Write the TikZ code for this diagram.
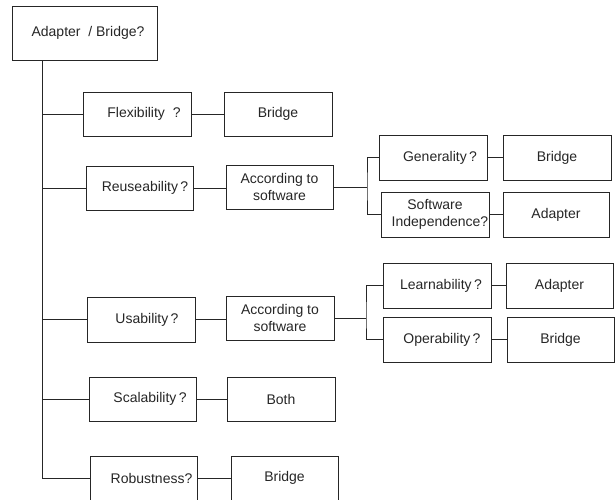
\documentclass[tikz,border=0pt]{standalone}
\usepackage{fontspec}
\setmainfont{Liberation Sans}
\begin{document}
\begin{tikzpicture}[x=1pt,y=-1pt,
  box/.style={draw=black!85, line width=0.9pt, rectangle, inner sep=0pt,
    minimum width=108pt, minimum height=44pt, align=center,
    font=\fontsize{14}{17.5}\selectfont, text=black!85},
  wire/.style={draw=black!85, line width=0.9pt}]
\useasboundingbox (0,0) rectangle (615,499);
% nodes
\node[box, minimum width=145pt, minimum height=54pt] (root) at (84.5,33) {\hspace*{7pt}Adapter\ \ / Bridge?};
\node[box] (flex)  at (137,114)   {\hspace*{14pt}Flexibility\ \ ?};
\node[box] (bri1)  at (278,114)   {Bridge};
\node[box, minimum width=107pt] (reuse) at (139.5,188) {\hspace*{11pt}Reuseability\,?};
\node[box, minimum width=107pt] (acc1)  at (279.5,187) {According to\\software};
\node[box, minimum height=45pt] (gen)   at (433,157.5) {\hspace*{14pt}Generality\,?};
\node[box, minimum height=45pt] (bri2)  at (557,157.5) {Bridge};
\node[box, minimum height=45pt] (swi)   at (435,214.5) {Software\\\hspace*{10pt}Independence?};
\node[box, minimum width=106pt, minimum height=45pt] (ada1) at (556,214.5) {Adapter};
\node[box, minimum height=45pt] (usa)   at (141,319.5) {\hspace*{12pt}Usability\,?};
\node[box] (acc2)  at (280,318)   {According to\\software};
\node[box, minimum height=45pt] (learn) at (437,285.5) {\hspace*{8pt}Learnability\,?};
\node[box, minimum width=107pt, minimum height=45pt] (ada2) at (559.5,285.5) {Adapter};
\node[box, minimum height=45pt] (oper)  at (437,339.5) {\hspace*{10pt}Operability\,?};
\node[box, minimum width=107pt, minimum height=45pt] (bri3) at (560.5,339.5) {Bridge};
\node[box, minimum width=107pt] (scal)  at (142.5,399) {\hspace*{15pt}Scalability\,?};
\node[box] (both)  at (281,399)   {Both};
\node[box, minimum width=107pt] (rob)   at (143.5,478) {\hspace*{16pt}Robustness?};
\node[box, minimum width=107pt] (bri4)  at (284.5,478) {Bridge};
% coordinates
\coordinate (tr) at (42,0);
\coordinate (b1) at (367,0);
\coordinate (b2) at (366,0);
% trunk
\draw[wire] (root.south -| tr) |- (rob.west);
\draw[wire] (flex.west -| tr) -- (flex.west);
\draw[wire] (reuse.west -| tr) -- (reuse.west);
\draw[wire] (usa.west -| tr) -- (usa.west);
\draw[wire] (scal.west -| tr) -- (scal.west);
% horizontal links
\draw[wire] (flex.east) -- (flex.east -| bri1.west);
\draw[wire] (reuse.east) -- (reuse.east -| acc1.west);
\draw[wire] (usa.east) -- (usa.east -| acc2.west);
\draw[wire] (scal.east) -- (scal.east -| both.west);
\draw[wire] (rob.east) -- (rob.east -| bri4.west);
\draw[wire] (gen.east) -- (gen.east -| bri2.west);
\draw[wire] (swi.east) -- (swi.east -| ada1.west);
\draw[wire] (learn.east) -- (learn.east -| ada2.west);
\draw[wire] (oper.east) -- (oper.east -| bri3.west);
% brackets
\draw[wire] (acc1.east) -- (acc1.east -| b1);
\draw[wire] (gen.west) -| (acc1.east -| b1) |- (swi.west);
\draw[wire] (acc2.east) -- (acc2.east -| b2);
\draw[wire] (learn.west) -| (acc2.east -| b2) |- (oper.west);
\end{tikzpicture}
\end{document}
